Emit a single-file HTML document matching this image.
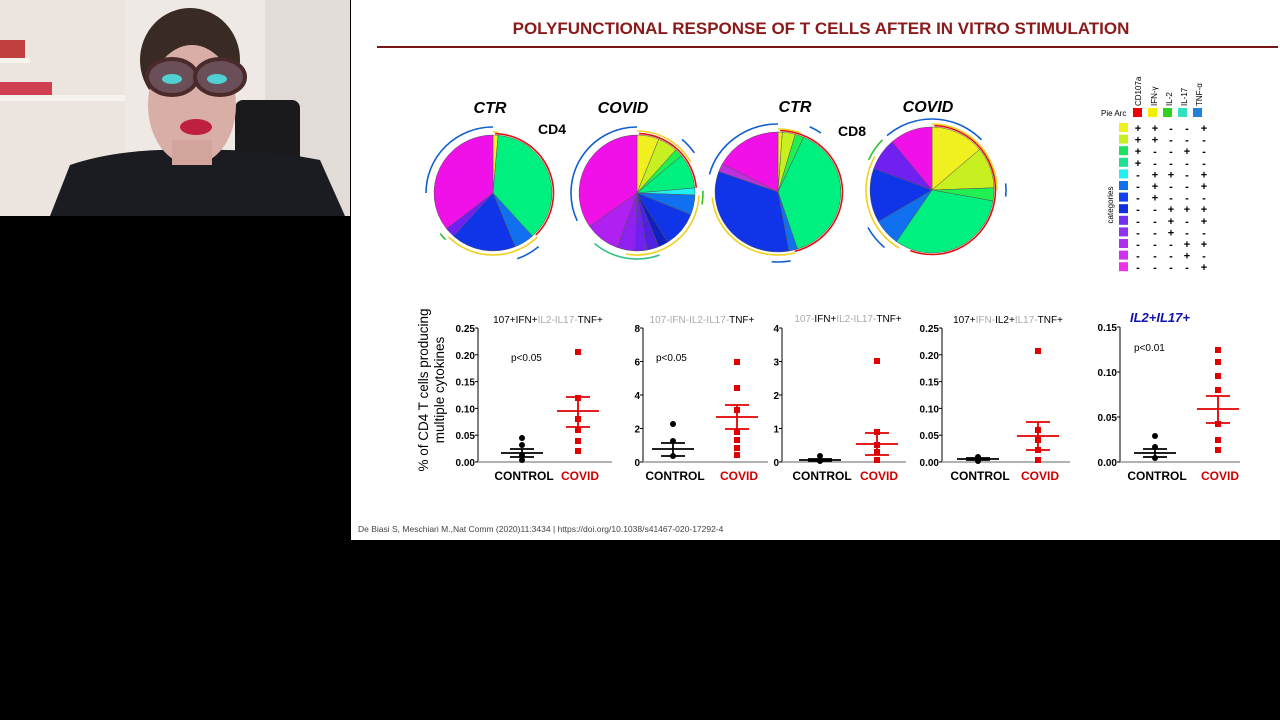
<!DOCTYPE html>
<html><head><meta charset="utf-8"><style>
body{margin:0;background:#000;width:1280px;height:720px;overflow:hidden}
svg{display:block;font-family:"Liberation Sans",Arial,sans-serif}
</style></head><body>
<svg id="s" width="1280" height="720" viewBox="0 0 1280 720">
<rect width="1280" height="720" fill="#000"/>
<!-- webcam -->
<rect x="0" y="0" width="350" height="216" fill="#e6dcd6"/>
<rect x="0" y="0" width="125" height="216" fill="#ece4de"/>
<rect x="125" y="0" width="140" height="216" fill="#efe9e5"/>
<rect x="265" y="0" width="80" height="216" fill="#e2dcd8"/>
<rect x="0" y="95" width="125" height="6" fill="#f6f2ee"/>
<rect x="0" y="58" width="30" height="5" fill="#f6f2ee"/>
<rect x="0" y="82" width="52" height="13" fill="#d04050"/>
<rect x="0" y="40" width="25" height="18" fill="#c04040"/>
<rect x="235" y="100" width="65" height="70" rx="8" fill="#1a1a1c"/>
<path d="M50 216 L70 165 Q120 148 190 150 Q260 148 320 160 L345 216 Z" fill="#1b1b22"/>
<ellipse cx="190" cy="60" rx="50" ry="52" fill="#3a2a24"/>
<ellipse cx="192" cy="105" rx="44" ry="60" fill="#d9aea6"/>
<rect x="172" y="140" width="40" height="25" fill="#d3a49c"/>
<ellipse cx="172" cy="77" rx="25" ry="18" fill="#6a4e58" stroke="#4a2a2a" stroke-width="4"/>
<ellipse cx="220" cy="77" rx="25" ry="18" fill="#6a4e58" stroke="#4a2a2a" stroke-width="4"/>
<ellipse cx="172" cy="79" rx="10" ry="5" fill="#50d0d0"/>
<ellipse cx="217" cy="79" rx="10" ry="5" fill="#50d0d0"/>
<ellipse cx="196" cy="127" rx="16" ry="8" fill="#c02040"/>
<!-- slide -->
<rect x="351" y="0" width="929" height="540" fill="#fff"/>
<text x="821" y="34" text-anchor="middle" font-size="17" font-weight="bold" fill="#8b1a1a">POLYFUNCTIONAL RESPONSE OF T CELLS AFTER IN VITRO STIMULATION</text>
<line x1="377" y1="47" x2="1278" y2="47" stroke="#7a1515" stroke-width="2"/>
<g font-style="italic" font-weight="bold" font-size="16" text-anchor="middle" fill="#000">
<text x="490" y="113">CTR</text><text x="623" y="113">COVID</text><text x="795" y="112">CTR</text><text x="928" y="112">COVID</text></g>
<text x="538" y="134" font-size="14" font-weight="bold">CD4</text>
<text x="838" y="136" font-size="14" font-weight="bold">CD8</text>
<g id="pies"></g>
<!-- legend -->
<g font-size="8" fill="#000">
<g transform="translate(1141,106) rotate(-90)"><text>CD107a</text></g>
<g transform="translate(1157,106) rotate(-90)"><text>IFN-γ</text></g>
<g transform="translate(1172,106) rotate(-90)"><text>IL-2</text></g>
<g transform="translate(1187,106) rotate(-90)"><text>IL-17</text></g>
<g transform="translate(1202,106) rotate(-90)"><text>TNF-α</text></g>
<text x="1101" y="116">Pie Arc</text>
<g transform="translate(1113,205) rotate(-90)"><text text-anchor="middle">categories</text></g>
</g>
<rect x="1133" y="108" width="9" height="9" fill="#e00"/><rect x="1148" y="108" width="9" height="9" fill="#f0f000"/><rect x="1163" y="108" width="9" height="9" fill="#30d020"/><rect x="1178" y="108" width="9" height="9" fill="#30e0c0"/><rect x="1193" y="108" width="9" height="9" fill="#2080e0"/>
<g id="leg" font-size="11" font-weight="bold" text-anchor="middle"></g>
<!-- scatter -->
<g transform="translate(428,390) rotate(-90)" font-size="13.5" text-anchor="middle"><text y="0">% of CD4 T cells producing</text><text y="16">multiple cytokines</text></g>
<g id="sc" font-size="10"></g>
<g font-size="10" text-anchor="middle">
<text x="548" y="323"><tspan>107+IFN+</tspan><tspan fill="#aaa">IL2-IL17-</tspan><tspan>TNF+</tspan></text>
<text x="702" y="323" fill="#aaa"><tspan>107-IFN-IL2-IL17-</tspan><tspan fill="#000">TNF+</tspan></text>
<text x="848" y="322" fill="#aaa"><tspan>107-</tspan><tspan fill="#000">IFN+</tspan><tspan>IL2-IL17-</tspan><tspan fill="#000">TNF+</tspan></text>
<text x="1008" y="323"><tspan>107+</tspan><tspan fill="#aaa">IFN-</tspan><tspan>IL2+</tspan><tspan fill="#aaa">IL17-</tspan><tspan>TNF+</tspan></text>
</g>
<text x="1160" y="322" text-anchor="middle" font-size="13" font-weight="bold" font-style="italic" fill="#1010b0">IL2+IL17+</text>
<g font-size="10"><text x="511" y="361">p&lt;0.05</text><text x="656" y="361">p&lt;0.05</text><text x="1134" y="351">p&lt;0.01</text></g>
<text x="358" y="532" font-size="8.5" fill="#444">De Biasi S, Meschiari M.,Nat Comm (2020)11:3434 | https://doi.org/10.1038/s41467-020-17292-4</text>
</svg>
<script>
var NS="http://www.w3.org/2000/svg";
function el(p,t,a,txt){var e=document.createElementNS(NS,t);for(var k in a)e.setAttribute(k,a[k]);if(txt!=null)e.textContent=txt;p.appendChild(e);return e;}
function pt(cx,cy,rx,ry,a){a=(a-90)*Math.PI/180;return [cx+rx*Math.cos(a),cy+ry*Math.sin(a)];}
function arc(cx,cy,rx,ry,a0,a1){var p0=pt(cx,cy,rx,ry,a0),p1=pt(cx,cy,rx,ry,a1);return "M"+p0+" A"+rx+","+ry+" 0 "+((a1-a0)>180?1:0)+" 1 "+p1;}
var P=document.getElementById("pies");
function pie(cx,cy,rx,ry,sl,arcs){
 sl.forEach(function(s){var p0=pt(cx,cy,rx,ry,s[0]),p1=pt(cx,cy,rx,ry,s[1]);
 el(P,"path",{d:"M"+cx+","+cy+" L"+p0+" A"+rx+","+ry+" 0 "+((s[1]-s[0])>180?1:0)+" 1 "+p1+" Z",fill:s[2],stroke:"#555","stroke-width":0.5});});
 arcs.forEach(function(a){el(P,"path",{d:arc(cx,cy,rx+a[2],ry+a[2],a[0],a[1]),fill:"none",stroke:a[3],"stroke-width":1.6});});
}
var Y="#f0f020",YG="#c8f020",G="#20f050",GR="#00f080",C="#20f0f0",B1="#1070f0",B2="#1035e8",B3="#1020c0",V="#7020f0",PU="#b020f0",M="#f010e8";
pie(493,193,59,58,[[0,5,Y],[5,138,GR],[138,158,B1],[158,222,B2],[222,232,V],[232,360,M]],
 [[2,135,1.5,"#e01010"],[0,5,3,"#f0d020"],[135,225,4,"#f0d020"],[270,360,8,"#1060d0"],[140,160,12,"#1060d0"],[225,232,8,"#30c030"]]);
pie(637,193,58,58,[[0,22,Y],[22,42,YG],[42,50,G],[50,85,GR],[85,92,C],[92,112,B1],[112,148,B2],[148,158,B3],[158,170,"#5020e0"],[170,182,"#7020f0"],[182,200,"#9020f0"],[200,235,PU],[235,360,M]],
 [[2,85,1.5,"#e01010"],[0,60,4,"#f0d020"],[92,190,4,"#f0d020"],[160,220,8,"#30c080"],[245,360,8,"#1060d0"],[40,55,12,"#1060d0"],[88,100,8,"#30c030"]]);
pie(778,192,63,60,[[0,4,Y],[4,16,YG],[16,24,G],[24,162,GR],[162,170,B1],[170,290,B2],[290,298,"#c030e0"],[298,360,M]],
 [[2,165,1.5,"#e01010"],[165,265,3,"#f0d020"],[0,20,3,"#f0d020"],[285,360,8,"#1060d0"],[25,35,12,"#1060d0"],[170,185,10,"#1060d0"]]);
pie(932,190,62,63,[[0,50,Y],[50,88,YG],[88,100,G],[100,215,GR],[215,240,B1],[240,290,B2],[290,320,V],[320,360,M]],
 [[2,200,1.5,"#e01010"],[0,90,3,"#f0d020"],[210,300,4,"#f0d020"],[320,360,8,"#1060d0"],[0,45,8,"#1060d0"],[220,240,12,"#1060d0"],[295,315,8,"#30c030"],[85,95,12,"#1060d0"]]);
var L=document.getElementById("leg");
var cols=[1138,1155,1171,1187,1204];
var rc=["#f0f020","#c8f020","#20e060","#20e090","#20f0f0","#1070f0","#1040f0","#1030e0","#7030f0","#9030f0","#b030f0","#d030f0","#f030e8"];
var rows=["++--+","++---","+--+-","+----","-++-+","-+--+","-+---","--+++","--+-+","--+--","---++","---+-","----+"];
rows.forEach(function(r,i){var y=128+i*11.6;el(L,"rect",{x:1119,y:y-5,width:9,height:9,fill:rc[i]});
 for(var j=0;j<5;j++)el(L,"text",{x:cols[j],y:y+4},r[j]=="+"?"+":"-");});
var S=document.getElementById("sc");
function panel(ax,xend,top,ticks,cx,vx,ctrl,cv){
 var y0=462;
 el(S,"line",{x1:ax,y1:top,x2:ax,y2:y0,stroke:"#000","stroke-width":1});
 el(S,"line",{x1:ax,y1:y0,x2:xend,y2:y0,stroke:"#999","stroke-width":1.5});
 ticks.forEach(function(t,i){var y=y0-(y0-top)*i/(ticks.length-1);el(S,"line",{x1:ax-3,y1:y,x2:ax,y2:y,stroke:"#000"});
  el(S,"text",{x:ax-3,y:y+4,"text-anchor":"end","font-size":10,"font-weight":"bold"},t);});
 function grp(x,d,col,sq){d.pts.forEach(function(y){if(sq)el(S,"rect",{x:x-3,y:y-3,width:6,height:6,fill:col});else el(S,"circle",{cx:x,cy:y,r:3,fill:col});});
  el(S,"line",{x1:x-21,y1:d.m,x2:x+21,y2:d.m,stroke:col,"stroke-width":1.8});
  el(S,"line",{x1:x-12,y1:d.e[0],x2:x+12,y2:d.e[0],stroke:col,"stroke-width":1.8});
  el(S,"line",{x1:x-12,y1:d.e[1],x2:x+12,y2:d.e[1],stroke:col,"stroke-width":1.8});
  el(S,"line",{x1:x,y1:d.e[0],x2:x,y2:d.e[1],stroke:col,"stroke-width":1.8});}
 grp(cx,ctrl,"#000",false);grp(vx,cv,"#e00000",true);
 el(S,"text",{x:cx+2,y:y0+18,"text-anchor":"middle","font-size":12,"font-weight":"bold"},"CONTROL");
 el(S,"text",{x:vx+2,y:y0+18,"text-anchor":"middle","font-size":12,"font-weight":"bold",fill:"#d00000"},"COVID");
}
var t25=["0.00","0.05","0.10","0.15","0.20","0.25"];
panel(478,612,328,t25,522,578,{pts:[438,445,455,460],m:453,e:[449,457]},{pts:[352,398,419,430,441,451],m:411,e:[397,427]});
panel(643,768,328,["0","2","4","6","8"],673,737,{pts:[424,441,456],m:449,e:[443,456]},{pts:[362,388,410,432,440,448,455],m:417,e:[405,429]});
panel(782,906,328,["0","1","2","3","4"],820,877,{pts:[456,460,461],m:460,e:[459,461]},{pts:[361,432,445,452,460],m:444,e:[433,455]});
panel(942,1070,328,t25,978,1038,{pts:[457,460,461],m:459,e:[458,460]},{pts:[351,430,440,450,460],m:436,e:[422,450]});
panel(1120,1240,327,["0.00","0.05","0.10","0.15"],1155,1218,{pts:[436,447,458],m:453,e:[449,457]},{pts:[350,362,376,390,424,440,450],m:409,e:[396,423]});
</script>
</body></html>
